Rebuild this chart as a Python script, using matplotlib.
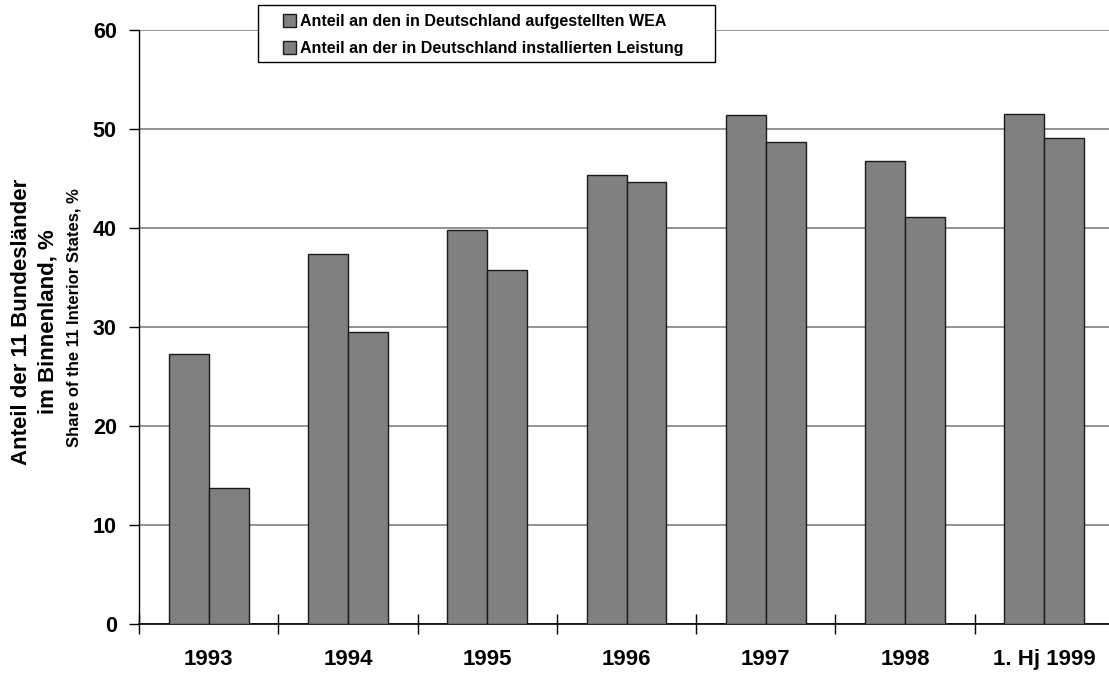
import matplotlib
matplotlib.use("Agg")
import matplotlib.pyplot as plt
from matplotlib.patches import Rectangle
import numpy as np

plt.rcParams['font.family'] = ['Liberation Sans', 'DejaVu Sans']
plt.rcParams['font.weight'] = 'bold'

categories = ["1993", "1994", "1995", "1996", "1997", "1998", "1. Hj 1999"]
share_wea = [27.3, 37.4, 39.8, 45.4, 51.4, 46.8, 51.5]
share_power = [13.7, 29.5, 35.8, 44.6, 48.65, 41.1, 49.06]
series_labels = ["Anteil an den in Deutschland aufgestellten WEA",
                 "Anteil an der in Deutschland installierten Leistung"]
yticks = [0, 10, 20, 30, 40, 50, 60]

W, H = 1109, 673
fig = plt.figure(figsize=(W/100, H/100), dpi=100)
ax = fig.add_axes([139/W, 49/H, 975/W, 594/H])

x = np.arange(len(categories))
w = 0.287
ax.bar(x - w/2, share_wea, width=w, color='#808080', edgecolor='#1a1a1a', linewidth=1.0,
       zorder=3, label=series_labels[0])
ax.bar(x + w/2, share_power, width=w, color='#808080', edgecolor='#1a1a1a', linewidth=1.0,
       zorder=3, label=series_labels[1])

ax.set_xlim(-0.5, len(categories) - 0.5)
ax.set_ylim(0, 60)
ax.set_yticks(yticks)
ax.set_yticklabels([str(t) for t in yticks], fontsize=15.5, fontweight='bold')
ax.set_xticks(x)
ax.set_xticklabels(categories, fontsize=16, fontweight='bold')
ax.tick_params(axis='x', which='major', length=0, pad=18)
ax.set_xticks(np.arange(-0.5, len(categories) + 0.5, 1.0), minor=True)
ax.tick_params(axis='x', which='minor', direction='inout', length=15, width=1.0)
ax.tick_params(axis='y', direction='out', length=7, width=1.0, pad=9)

ax.yaxis.grid(True, color='#808080', linewidth=1.2, zorder=0)
ax.set_axisbelow(True)
for s in ['top', 'right']:
    ax.spines[s].set_visible(False)
ax.spines['left'].set_linewidth(1.0)
ax.spines['bottom'].set_linewidth(1.2)

fig.text(35/W, 1 - 322/H, "Anteil der 11 Bundesländer\nim Binnenland, %", rotation=90,
         ha='center', va='center', fontsize=16, fontweight='bold', linespacing=1.35)
fig.text(74/W, 1 - 318/H, "Share of the 11 Interior States, %", rotation=90,
         ha='center', va='center', fontsize=12, fontweight='bold')

# legend frame
frame = Rectangle((258/W, 1 - 62/H), (715 - 258)/W, 57/H, transform=fig.transFigure,
                  facecolor='white', edgecolor='black', linewidth=1.0, zorder=5)
fig.patches.append(frame)

leg = fig.legend(loc='upper left', bbox_to_anchor=(283/W, 1 - 14/H),
                 bbox_transform=fig.transFigure, borderaxespad=0,
                 prop={'size': 11.5, 'weight': 'bold'}, frameon=False,
                 handlelength=0.8, handleheight=0.8, handletextpad=0.25,
                 labelspacing=0.75, borderpad=0.0)
leg.set_zorder(6)

fig.savefig("out.png", dpi=100)
